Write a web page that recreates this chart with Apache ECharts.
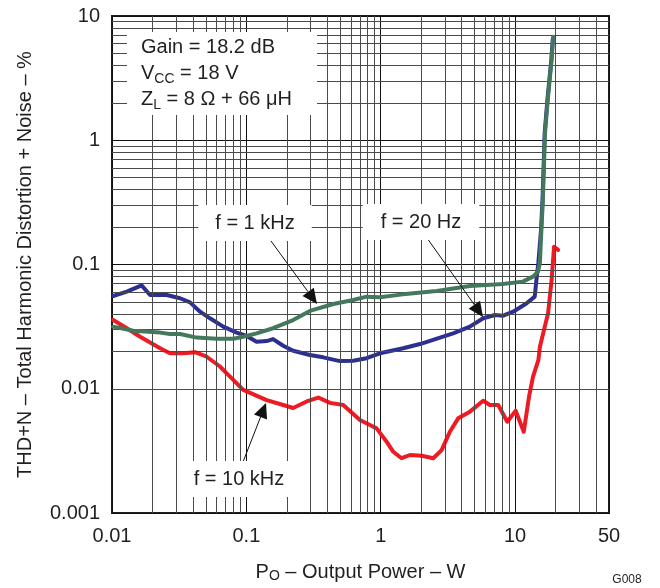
<!DOCTYPE html>
<html>
<head>
<meta charset="utf-8">
<script src="https://cdn.jsdelivr.net/npm/echarts@6/dist/echarts.min.js"></script>
<style>
html,body{margin:0;padding:0;background:#fff;}
#chart{width:660px;height:588px;}
</style>
</head>
<body>
<div id="chart"></div>
<script>
// ---- Data ----
const curve20Hz = [[0.0102,0.0558],[0.0129,0.0604],[0.0166,0.068],[0.0192,0.0568],[0.0255,0.0568],[0.0321,0.0535],[0.0381,0.0496],[0.0452,0.0417],[0.0536,0.0369],[0.0673,0.0316],[0.0847,0.0283],[0.1005,0.0266],[0.119,0.0239],[0.1416,0.0242],[0.158,0.0251],[0.188,0.0222],[0.223,0.0202],[0.297,0.0187],[0.373,0.0179],[0.497,0.0167],[0.624,0.0168],[0.785,0.0176],[0.986,0.0193],[1.47,0.0212],[1.96,0.0229],[3.46,0.0279],[4.61,0.0316],[5.79,0.0369],[7.07,0.0392],[8.16,0.0387],[9.68,0.0417],[12.2,0.0487],[14.0,0.0551],[14.5,0.0798],[14.9,0.103],[15.6,0.19],[16.0,0.33],[16.6,1.14],[17.4,2.11],[18.6,4.43],[19.1,6.6]];
const curve1kHz = [[0.0102,0.0316],[0.0144,0.0293],[0.0228,0.0283],[0.027,0.0276],[0.0321,0.0276],[0.0427,0.0258],[0.0601,0.0253],[0.0799,0.0253],[0.0948,0.0262],[0.119,0.0279],[0.158,0.0307],[0.223,0.0357],[0.297,0.0423],[0.444,0.0481],[0.624,0.0518],[0.785,0.0551],[0.986,0.0545],[1.46,0.0575],[2.61,0.0612],[4.61,0.0671],[8.11,0.0697],[11.4,0.0728],[13.6,0.0798],[14.8,0.0875],[15.3,0.103],[15.7,0.19],[16.1,0.33],[16.7,1.14],[17.5,2.11],[18.7,4.43],[19.2,6.81]];
const curve10kHz = [[0.0102,0.0358],[0.0129,0.0307],[0.0162,0.0262],[0.0228,0.0212],[0.027,0.0193],[0.0339,0.0193],[0.0415,0.0197],[0.0507,0.0181],[0.0636,0.0151],[0.0714,0.0133],[0.0799,0.0118],[0.0948,0.0098],[0.1416,0.0081],[0.188,0.0074],[0.223,0.0070],[0.281,0.0079],[0.343,0.0085],[0.419,0.0077],[0.526,0.0074],[0.70,0.0056],[0.831,0.0051],[0.932,0.0048],[1.106,0.00375],[1.24,0.00311],[1.43,0.00276],[1.65,0.00293],[2.02,0.00289],[2.46,0.00276],[2.84,0.00321],[3.27,0.00451],[3.77,0.00578],[4.61,0.00654],[5.79,0.0080],[6.49,0.0074],[7.49,0.0074],[8.74,0.00543],[10.1,0.00666],[11.6,0.00451],[12.7,0.00863],[13.6,0.0125],[14.9,0.017],[15.3,0.0218],[17.6,0.0405],[18.7,0.075],[19.5,0.139],[20.9,0.131]];

const xMin = 0.01, xMax = 50;
const yMin = 0.001, yMax = 10;
const xMinorGrid = [0.02,0.03,0.04,0.05,0.06,0.07,0.08,0.09,0.2,0.3,0.4,0.5,0.6,0.7,0.8,0.9,2,3,4,5,6,7,8,9,20,30,40];
const yMinorGrid = [0.002,0.003,0.004,0.005,0.006,0.007,0.008,0.009,0.02,0.03,0.04,0.05,0.06,0.07,0.08,0.09,0.2,0.3,0.4,0.5,0.6,0.7,0.8,0.9,2,3,4,5,6,7,8,9];

const seriesNames = ['f = 10 kHz','f = 20 Hz','f = 1 kHz'];
const infoLines = ['Gain = 18.2 dB','V{s|CC} = 18 V','Z{s|L} = 8 \u03A9 + 66 \u03BCH'];
const xTitle = 'P{s|O} \u2013 Output Power \u2013 W';
const yTitle = 'THD+N \u2013 Total Harmonic Distortion + Noise \u2013 %';
const figId = 'G008';

// ---- Styles ----
const FONT = '"Liberation Sans", Arial, Helvetica, sans-serif';
const TXT = '#231f20';
const fmt = v => String(Number(Number(v).toPrecision(6)));

function arrow(x1, y1, x2, y2) {
  const dx = x2 - x1, dy = y2 - y1, L = Math.hypot(dx, dy);
  const ux = dx / L, uy = dy / L, hl = 15, hw = 7;
  const bx = x2 - ux * hl, by = y2 - uy * hl;
  return [
    {type:'line', z:100, shape:{x1:x1, y1:y1, x2:bx, y2:by}, style:{stroke:'#111', lineWidth:1}},
    {type:'polygon', z:100, shape:{points:[[x2,y2],[bx - uy*hw, by + ux*hw],[bx + uy*hw, by - ux*hw]]}, style:{fill:'#111'}}
  ];
}
function label(text, x, y, pad) {
  return {type:'text', z:101, style:{text:text, x:x, y:y, align:'center', verticalAlign:'middle',
    fontSize:20, fontFamily:FONT, fill:TXT, backgroundColor:'#fff', padding:pad}};
}

const chart = echarts.init(document.getElementById('chart'), null, {renderer:'canvas'});
const option = {
  animation: false,
  backgroundColor: '#fff',
  textStyle: {fontFamily: FONT},
  grid: {left:112, top:16, width:497, height:497, show:true, borderColor:'#1e1e1e', borderWidth:2, backgroundColor:'#fff', containLabel:false},
  xAxis: {
    type:'log', logBase:10, min:xMin, max:xMax,
    axisLine:{show:false}, axisTick:{show:false},
    splitLine:{show:true, lineStyle:{color:'#111', width:1}},
    axisLabel:{fontSize:20, color:TXT, fontFamily:FONT, margin:13, formatter:fmt},
    name: xTitle, nameLocation:'middle', nameGap:48,
    nameTextStyle:{fontSize:20, color:TXT, fontFamily:FONT, lineHeight:22,
      rich:{s:{fontSize:14, lineHeight:12, verticalAlign:'bottom', color:TXT, fontFamily:FONT}}}
  },
  yAxis: {
    type:'log', logBase:10, min:yMin, max:yMax,
    axisLine:{show:false}, axisTick:{show:false},
    splitLine:{show:true, lineStyle:{color:'#111', width:1}},
    axisLabel:{fontSize:20, color:TXT, fontFamily:FONT, margin:12, formatter:fmt},
    name: yTitle, nameLocation:'middle', nameGap:77,
    nameTextStyle:{fontSize:20, color:TXT, fontFamily:FONT}
  },
  series: [
    {
      type:'line', name:'grid', data:[], z:1, silent:true,
      markLine:{
        silent:true, animation:false, symbol:['none','none'], label:{show:false},
        lineStyle:{color:'#4a4a4a', width:1, type:'solid'},
        emphasis:{disabled:true},
        data: xMinorGrid.map(v => ({xAxis:v})).concat(yMinorGrid.map(v => ({yAxis:v})))
      }
    },
    {type:'line', name:seriesNames[0], data:curve10kHz, z:3, symbol:'none', showSymbol:false,
      lineStyle:{color:'#ed1c24', width:4, join:'round', cap:'round'}},
    {type:'line', name:seriesNames[1], data:curve20Hz, z:4, symbol:'none', showSymbol:false,
      lineStyle:{color:'#2b2f8f', width:4, join:'round', cap:'round'}},
    {type:'line', name:seriesNames[2], data:curve1kHz, z:5, symbol:'none', showSymbol:false,
      lineStyle:{color:'#44785c', width:4, join:'round', cap:'round'}}
  ],
  graphic: [
    {type:'rect', z:100, shape:{x:127, y:32, width:190, height:83}, style:{fill:'#fff'}},
    {type:'text', z:101, style:{text:infoLines.join('\n'), x:141, y:34, fontSize:20, fontFamily:FONT, fill:TXT, lineHeight:26,
      rich:{s:{fontSize:14, lineHeight:16, verticalAlign:'bottom', fill:TXT, fontFamily:FONT}}}},
    label(seriesNames[2], 255, 223, [8,17]),
    label(seriesNames[1], 421, 222, [8,18]),
    label(seriesNames[0], 239, 479, [8,14]),
    ...arrow(271, 241, 317, 304),
    ...arrow(427, 238, 483, 317),
    ...arrow(243, 462, 266, 403),
    {type:'text', z:101, style:{text:figId, x:627, y:580, align:'center', verticalAlign:'middle', fontSize:12, fontFamily:FONT, fill:TXT}}
  ]
};
chart.setOption(option);
</script>
</body>
</html>
